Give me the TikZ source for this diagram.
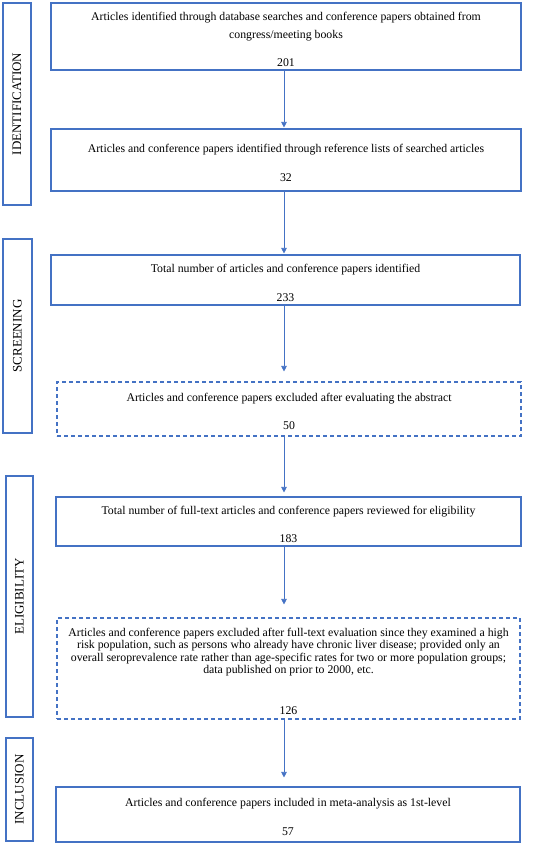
\documentclass[tikz,border=0pt]{standalone}
\usepackage{fontspec}
\setmainfont{Liberation Serif}
\usetikzlibrary{positioning,arrows.meta,calc}
\definecolor{flowblue}{HTML}{4472C4}
\newcommand{\padtop}{\rule{0pt}{14pt}}

\begin{document}
\begin{tikzpicture}[x=1pt, y=-1pt, font=\fontsize{11.8}{12.5}\selectfont,
    box/.style={draw=flowblue, line width=1.1pt, align=center, inner sep=0pt},
    dbox/.style={box, dash pattern=on 4pt off 3pt},
    phase/.style={draw=flowblue, line width=1.1pt, rotate=90, inner sep=0pt,
      font=\fontsize{13}{14}\selectfont},
    flow/.style={draw=flowblue, line width=0.6pt, -{Triangle[width=5.5pt,length=5.5pt]}}]
    \useasboundingbox (0,0) rectangle (550,844);%
    % stage boxes
    \node[box, minimum width=470, minimum height=67] (ident) at (286,36.5)
    {\padtop Articles identified through database searches and conference papers obtained from\\[5pt]
    congress/meeting books\\[15.5pt]201};%
    \node[box, minimum width=470, minimum height=62] (refs) at (286,160)
    {\padtop Articles and conference papers identified through reference lists of searched articles\\[16.5pt]32};%
    \node[box, minimum width=469, minimum height=50] (total) at (285.5,280)
    {\padtop Total number of articles and conference papers identified\\[16.5pt]233};%
    \node[dbox, minimum width=464, minimum height=54] (abstr) at (289,409)
    {\padtop Articles and conference papers excluded after evaluating the abstract\\[15.5pt]50};%
    \node[box, minimum width=465, minimum height=49] (full) at (288.5,521.5)
    {\padtop Total number of full-text articles and conference papers reviewed for eligibility\\[15.5pt]183};%
    \node[dbox, minimum width=463, minimum height=101] (excl) at (288.5,668.5)
    {\padtop Articles and conference papers excluded after full-text evaluation since they examined a high\\
    risk population, such as persons who already have chronic liver disease; provided only an\\
    overall seroprevalence rate rather than age-specific rates for two or more population groups;\\
    data published on prior to 2000, etc.\\[28.5pt]126};%
    \node[box, minimum width=464, minimum height=55] (meta) at (288,814.5)
    {\padtop Articles and conference papers included in meta-analysis as 1st-level\\[16.5pt]57};%
    % phase labels
    \node[phase, minimum width=202, minimum height=28] (pid) at (17,104) {IDENTIFICATION};%
    \node[phase, minimum width=194, minimum height=29] (pscr) at (17.5,336) {SCREENING};%
    \node[phase, minimum width=241, minimum height=27] (pelig) at (19.5,596.5) {ELIGIBILITY};%
    \node[phase, minimum width=103, minimum height=27] (pincl) at (19.5,789.5) {INCLUSION};%
    % arrows
    \coordinate (a1) at ($(ident.south)+(-2,0)$);%
    \coordinate (a2) at (a1 |- total.south);%
    \draw[flow, shorten >=1pt] (a1) -- (a1 |- refs.north);
    \draw[flow, shorten >=1pt] (a1 |- refs.south) -- (a1 |- total.north);
    \draw[flow, shorten >=10pt] (a2) -- (a2 |- abstr.north);
    \draw[flow, shorten >=4pt] (a2 |- abstr.south) -- (a2 |- full.north);
    \draw[flow, shorten >=13pt] (a2 |- full.south) -- (a2 |- excl.north);
    \draw[flow, shorten >=9pt] (a2 |- excl.south) -- (a2 |- meta.north);
\end{tikzpicture}
\end{document}
